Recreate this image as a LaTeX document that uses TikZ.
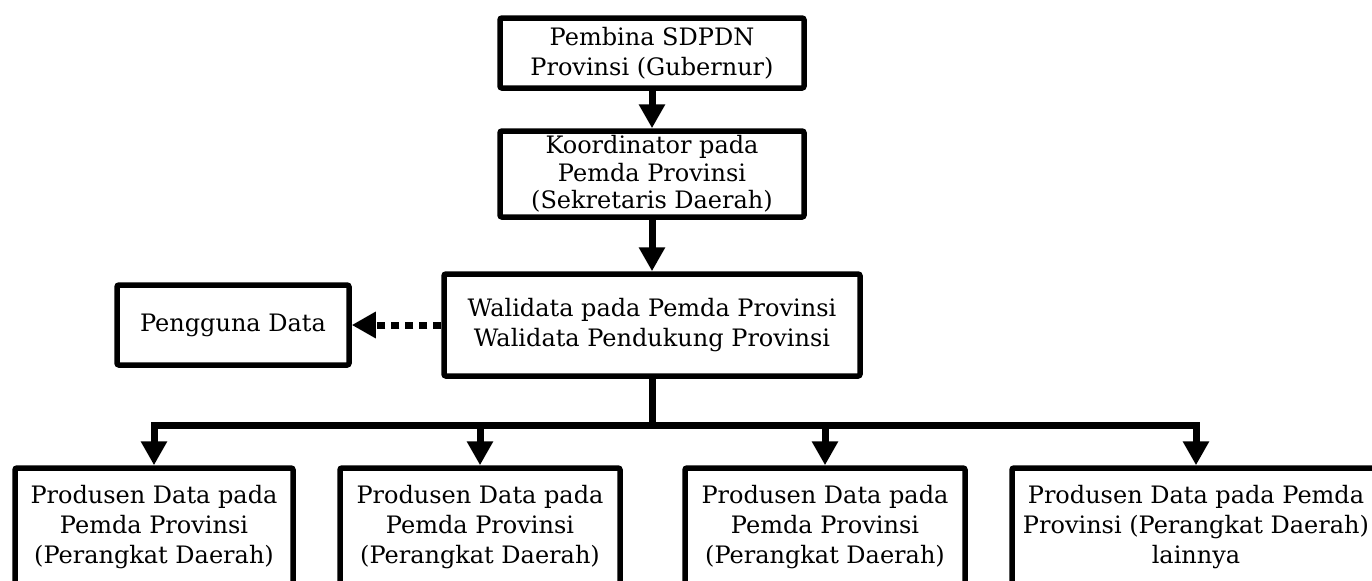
\documentclass[tikz,border=0pt]{standalone}
\usepackage{fontspec}
\setmainfont{DejaVu Serif}
\usepackage{tikz}
\usetikzlibrary{calc, positioning, arrows.meta}

\begin{document}
\begin{tikzpicture}[x=0.5pt, y=-0.5pt,
    box/.style={draw, rectangle, align=center, line width=2.75pt, rounded corners=1pt,
      inner sep=0pt, font=\fontsize{12}{15}\selectfont},
    arr/.style={-{Triangle[length=12pt, width=12.5pt]}, line width=3.5pt}]
  \clip (0,0) rectangle (1372,580);

  \node[box, minimum width=152pt, minimum height=35pt] (pembina) at (652,53) {Pembina SDPDN\\Provinsi (Gubernur)};
  \node[box, minimum width=152pt, minimum height=43pt, font=\fontsize{12}{13.8}\selectfont] (koord) at (652,174) {Koordinator pada\\Pemda Provinsi\\(Sekretaris Daerah)};
  \node[box, minimum width=208pt, minimum height=51pt] (wali) at (652,325) {Walidata pada Pemda Provinsi\\Walidata Pendukung Provinsi};
  \node[box, minimum width=116pt, minimum height=40pt] (pengguna) at (233,325) {Pengguna Data};

  \node[box, minimum width=139pt, minimum height=59pt] (prod1) at (154,527) {Produsen Data pada\\Pemda Provinsi\\(Perangkat Daerah)};
  \node[box, minimum width=140pt, minimum height=59pt] (prod2) at (480,527) {Produsen Data pada\\Pemda Provinsi\\(Perangkat Daerah)};
  \node[box, minimum width=140pt, minimum height=59pt] (prod3) at (825,527) {Produsen Data pada\\Pemda Provinsi\\(Perangkat Daerah)};
  \node[box, minimum width=184pt, minimum height=59pt] (prod4) at (1196,527) {Produsen Data pada Pemda\\Provinsi (Perangkat Daerah)\\lainnya};

  \draw[arr] (pembina) -- (koord);
  \draw[arr] (koord) -- (wali);
  \draw[arr, dash pattern=on 4pt off 3pt] (wali) -- (pengguna);

  % cabang ke produsen data
  \coordinate (bar) at (652,425);
  \draw[line width=3.5pt] (wali) -- (bar);
  \foreach \p in {prod1, prod2, prod3, prod4}
    \draw[arr] (bar) -| (\p);
\end{tikzpicture}
\end{document}
